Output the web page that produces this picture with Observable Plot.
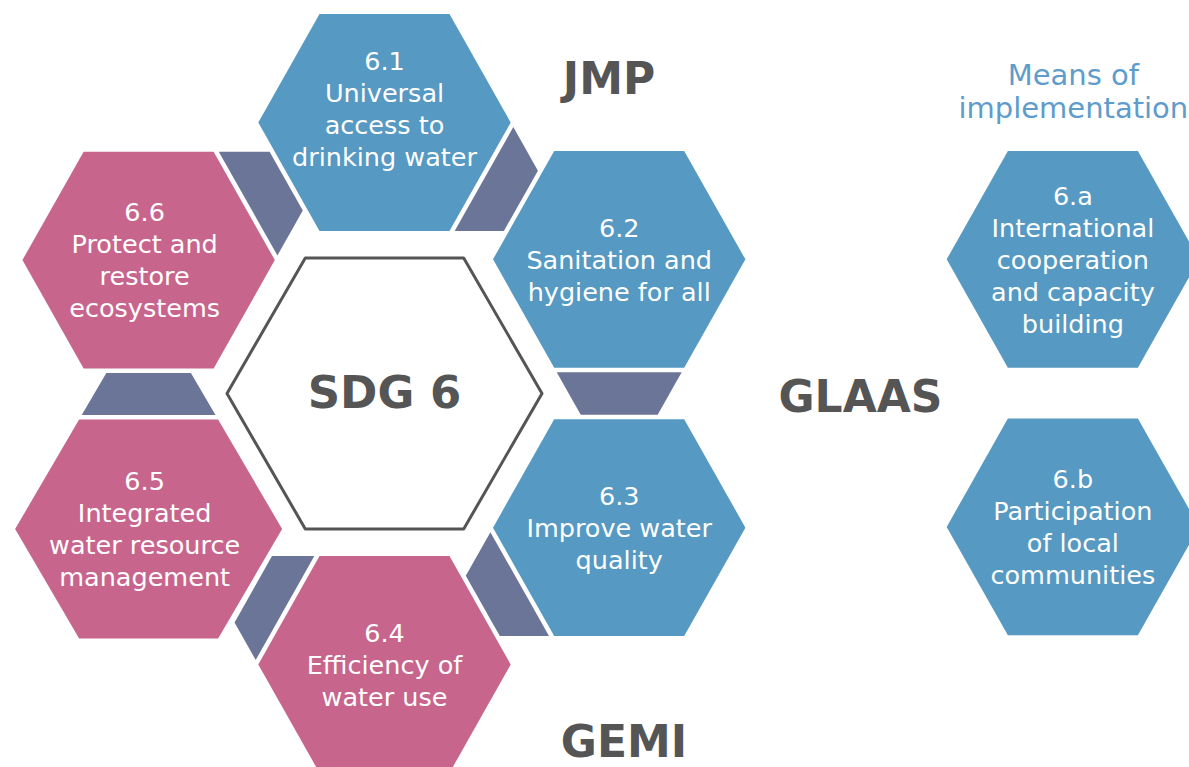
<!DOCTYPE html>
<html><head><meta charset="utf-8">
<script src="https://cdn.jsdelivr.net/npm/d3@7"></script>
<script src="https://cdn.jsdelivr.net/npm/@observablehq/plot@0.6"></script>
<style>
html,body{margin:0;padding:0;background:#fff;}
#chart svg{display:block;}
</style></head><body><div id="chart"></div>
<script>
// ---- data ----
const targets = ["6.1","6.2","6.3","6.4","6.5","6.6","6.a","6.b"];
const targetTitles = [
  "Universal\naccess to\ndrinking water",
  "Sanitation and\nhygiene for all",
  "Improve water\nquality",
  "Efficiency of\nwater use",
  "Integrated\nwater resource\nmanagement",
  "Protect and\nrestore\necosystems",
  "International\ncooperation\nand capacity\nbuilding",
  "Participation\nof local\ncommunities"
];
const targetGroup = ["water","water","water","resources","resources","resources","water","water"];
// hex-grid coordinates (columns, half-rows) relative to the SDG 6 hexagon
const gridCol = [0, 1, 1, 0, -1.005, -1.005, 2.933, 2.933];
const gridRow = [-2, -0.99, 0.99, 2, 1, -0.985, -0.99, 0.985];
const ringOrder = ["6.1","6.2","6.3","6.4","6.5","6.6"];
const centreLabel = "SDG 6";
const agencies = ["JMP","GLAAS","GEMI"];
const agencyCol = [0.9565, 2.028, 1.0205];
const agencyRow = [-2.317, 0.03, 2.575];
const meansLabel = "Means of\nimplementation";
const meansCol = [2.935];
const meansRow = [-2.236];

// ---- layout ----
const W = 1189, H = 767;
const COL = 234.7, ROW = 135.5, OX = 384, OY = 393;
const toPx = (c, r) => [OX + c * COL, OY + r * ROW];
const toData = ([px, py]) => ({x: (px - OX) / COL, y: (py - OY) / ROW});
const sizeOf = id => id === "6.5" ? {rx: 133.5, tx: 69.5, hy: 109.5} : {rx: 126.2, tx: 65, hy: 108.4};
const centreSize = {rx: 157.5, tx: 79.2, hy: 135.5};
function hexVerts([cx, cy], s) {
  return [[cx + s.rx, cy], [cx + s.tx, cy + s.hy], [cx - s.tx, cy + s.hy],
          [cx - s.rx, cy], [cx - s.tx, cy - s.hy], [cx + s.tx, cy - s.hy]];
}
const centres = new Map(targets.map((t, i) => [t, toPx(gridCol[i], gridRow[i])]));
const verts = new Map(targets.map(t => [t, hexVerts(centres.get(t), sizeOf(t))]));

function connector(A, Ac, B, Bc, m) {
  const ux = Bc[0] - Ac[0], uy = Bc[1] - Ac[1];
  let best = -Infinity, k = 0;
  for (let i = 0; i < 6; i++) {
    const p = A[i], q = A[(i + 1) % 6];
    const mx = (p[0] + q[0]) / 2 - Ac[0], my = (p[1] + q[1]) / 2 - Ac[1];
    const s = (mx * ux + my * uy) / Math.hypot(mx, my);
    if (s > best) { best = s; k = i; }
  }
  const P0 = A[(k + 5) % 6], P1 = A[k], P2 = A[(k + 1) % 6], P3 = A[(k + 2) % 6];
  const ex = P2[0] - P1[0], ey = P2[1] - P1[1], L = Math.hypot(ex, ey);
  let nx = ey / L, ny = -ex / L;
  const mid = [(P1[0] + P2[0]) / 2, (P1[1] + P2[1]) / 2];
  if ((mid[0] - Ac[0]) * nx + (mid[1] - Ac[1]) * ny < 0) { nx = -nx; ny = -ny; }
  const g = Math.min(...B.map(v => (v[0] - P1[0]) * nx + (v[1] - P1[1]) * ny));
  const ext = (P, Q, d) => {
    const dx = P[0] - Q[0], dy = P[1] - Q[1];
    const t = d / (dx * nx + dy * ny);
    return [P[0] + dx * t, P[1] + dy * t];
  };
  return [ext(P1, P0, m), ext(P2, P3, m), ext(P2, P3, g - m), ext(P1, P0, g - m)];
}

const hexRows = targets.flatMap((t, i) =>
  verts.get(t).map(v => ({id: t, group: targetGroup[i], ...toData(v)})));
const connRows = ringOrder.flatMap((a, i) => {
  const b = ringOrder[(i + 1) % 6];
  return connector(verts.get(a), centres.get(a), verts.get(b), centres.get(b), 4.5)
    .map(v => ({id: a + "-" + b, ...toData(v)}));
});
const centreRows = hexVerts([OX, OY], centreSize).map(v => ({id: "centre", ...toData(v)}));

const labelNudge = {"6.1": [0, -15], "6.5": [-4, -1], "6.6": [-4, -1]};
const labelRows = targets.map((t, i) => {
  const [cx, cy] = centres.get(t);
  const [dx, dy] = labelNudge[t] || [0, -1];
  return {text: t + "\n" + targetTitles[i], ...toData([cx + dx, cy + dy])};
});
const agencyRows = agencies.map((a, i) => ({text: a, x: agencyCol[i], y: agencyRow[i]}));
const meansRows = [{text: meansLabel, x: meansCol[0], y: meansRow[0]}];

const FONT = "DejaVu Sans";
const chart = Plot.plot({
  width: W, height: H, margin: 0,
  x: {domain: [-OX / COL, (W - OX) / COL], range: [0, W], axis: null},
  y: {domain: [-OY / ROW, (H - OY) / ROW], range: [0, H], axis: null},
  style: {background: "#fff", fontFamily: FONT},
  marks: [
    Plot.line(connRows, {x: "x", y: "y", z: "id", curve: "linear-closed", fill: "#6b7597", stroke: "none"}),
    Plot.line(hexRows.filter(d => d.group === "water"), {x: "x", y: "y", z: "id", curve: "linear-closed", fill: "#5699c2", stroke: "none"}),
    Plot.line(hexRows.filter(d => d.group === "resources"), {x: "x", y: "y", z: "id", curve: "linear-closed", fill: "#c8658d", stroke: "none"}),
    Plot.line(centreRows, {x: "x", y: "y", z: "id", curve: "linear-closed", fill: "#fff", stroke: "#555", strokeWidth: 3}),
    Plot.text(labelRows, {x: "x", y: "y", text: "text", fill: "#fff", fontSize: 25.5, lineHeight: 1.255, lineAnchor: "middle", textAnchor: "middle", fontFamily: FONT}),
    Plot.text([{text: centreLabel, x: 0, y: 0}], {x: "x", y: "y", text: "text", fill: "#555", fontSize: 45, fontWeight: "bold", lineAnchor: "middle", textAnchor: "middle", fontFamily: FONT}),
    Plot.text(agencyRows, {x: "x", y: "y", text: "text", fill: "#555", fontSize: 44, fontWeight: "bold", lineAnchor: "middle", textAnchor: "middle", fontFamily: FONT}),
    Plot.text(meansRows, {x: "x", y: "y", text: "text", fill: "#5e9ccb", fontSize: 29, lineHeight: 1.14, lineAnchor: "middle", textAnchor: "middle", fontFamily: FONT})
  ]
});
document.getElementById("chart").appendChild(chart);
</script>
</body></html>
